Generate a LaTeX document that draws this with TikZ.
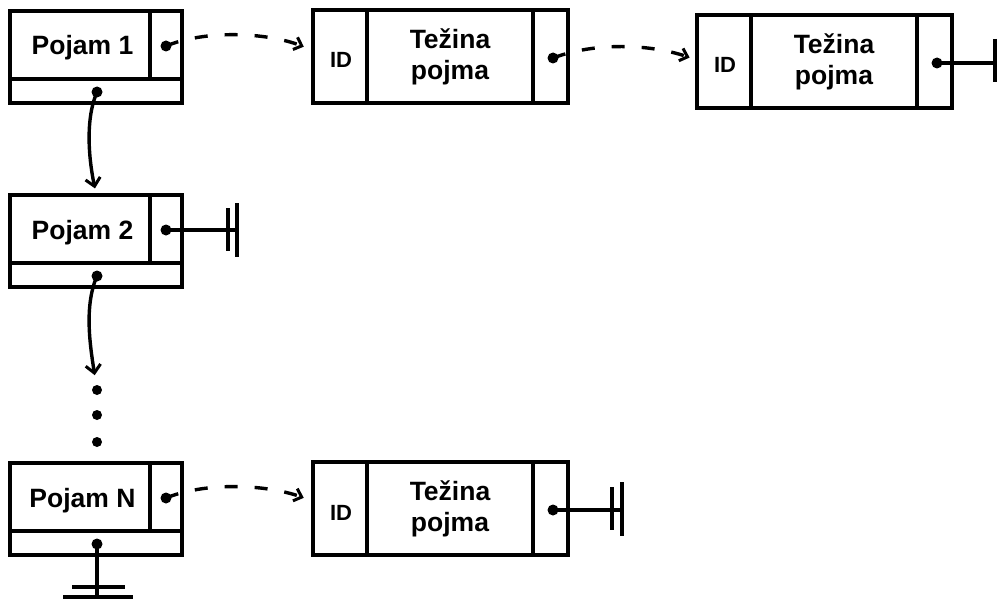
\documentclass[tikz,border=0pt]{standalone}
\usepackage{fontspec}
\setmainfont{Liberation Sans}
\usetikzlibrary{arrows.meta}
\tikzset{
  ln/.style={line width=3.4pt},
  lbl/.style={font=\bfseries\fontsize{26.5}{31}\selectfont, align=center, inner sep=0},
  idl/.style={font=\bfseries\fontsize{22}{26}\selectfont, inner sep=0},
  dot/.style={circle, fill=black, inner sep=0, minimum size=11pt},
  vdot/.style={circle, fill=black, inner sep=0, minimum size=10pt},
  dsh/.style={ln, dash pattern=on 13pt off 17pt, -{Straight Barb[length=7pt,width=13pt,line width=3pt]}},
  sol/.style={ln, -{Straight Barb[length=8pt,width=15pt,line width=3pt]}},
  pics/pojam/.style={code={
    \node[draw, ln, minimum width=172pt, minimum height=92pt, inner sep=0] (-box) at (86,46) {};
    \draw[ln] (140,0) -- (140,68);
    \draw[ln] (0,68) -- (172,68);
    \node[lbl, anchor=base] (-txt) at (72.5,44) {#1};
    \node[dot] (-r) at (156,35) {};
    \node[dot] (-b) at (87,81) {};
  }},
  pics/tezina/.style={code={
    \node[draw, ln, minimum width=255pt, minimum height=93pt, inner sep=0] (-box) at (127.5,46.5) {};
    \draw[ln] (54,0) -- (54,93);
    \draw[ln] (220,0) -- (220,93);
    \node[idl, anchor=base] (-id) at (28,58) {ID};
    \node[lbl] (-txt) at (137,47) {Težina\\pojma};
    \node[dot] (-r) at (240,48) {};
  }},
}
\begin{document}
\begin{tikzpicture}[x=1pt,y=-1pt]
\useasboundingbox[fill=white] (0,0) rectangle (1000,599);

\pic (p1) at (10,11) {pojam={Pojam 1}};
\pic (p2) at (10,195) {pojam={Pojam 2}};
\pic (pn) at (10,463) {pojam={Pojam N}};
\pic (w1) at (313,10) {tezina};
\pic (w2) at (697,15) {tezina};
\pic (w3) at (313,462) {tezina};

\node[vdot] (d1) at (97,390) {};
\node[vdot] (d2) at (97,415) {};
\node[vdot] (d3) at (97,442) {};

% dashed pointer arrows
\draw[dsh, shorten >=8pt] (p1-r.center) .. controls (205,30) and (265,32) .. ([yshift=7pt]w1-box.west);
\draw[dsh, shorten >=6pt] (w1-r.center) .. controls (595,42) and (650,44) .. ([yshift=2pt]w2-box.west);
\draw[dsh, shorten >=8pt] (pn-r.center) .. controls (205,482) and (265,484) .. ([yshift=8pt]w3-box.west);

% vertical list arrows
\draw[sol, shorten >=5pt] (p1-b.center) .. controls (84,122) and (90,165) .. (p2-box.north);
\draw[sol, shorten >=15pt] (p2-b.center) .. controls (84,306) and (90,345) .. (d1.center);

% terminators
\coordinate (t2) at (237,230);
\draw[ln] (p2-r.center) -- (t2);
\draw[ln] (228,208) -- (228,251);
\draw[ln] (t2) ++(0,-27) -- ++(0,54);

\coordinate (tw2) at (995,63);
\draw[ln] (w2-r.center) -- (tw2);
\draw[ln] (995,39) -- (995,82);

\coordinate (tw3) at (622,510);
\draw[ln] (w3-r.center) -- (tw3);
\draw[ln] (612,487) -- (612,530);
\draw[ln] (tw3) ++(0,-28) -- ++(0,54);

\coordinate (tn) at (97,597);
\draw[ln] (pn-b.center) -- (tn);
\draw[ln] (72,587) -- (125,587);
\draw[ln] (63,597) -- (133,597);
\end{tikzpicture}
\end{document}
